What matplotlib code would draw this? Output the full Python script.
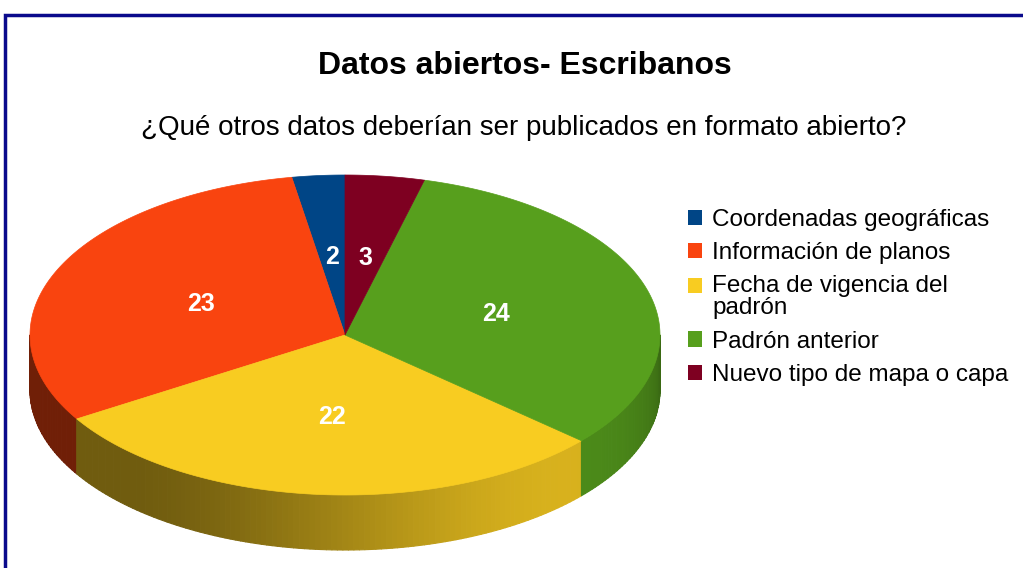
import numpy as np
import matplotlib
matplotlib.use('Agg')
import matplotlib.pyplot as plt
from matplotlib.patches import Polygon, Patch, Rectangle
from matplotlib.collections import PolyCollection
from matplotlib.legend_handler import HandlerPatch

plt.rcParams['font.family'] = ['Liberation Sans', 'DejaVu Sans']

# data
categories = ['Coordenadas geográficas', 'Información de planos',
              'Fecha de vigencia del\npadrón', 'Padrón anterior',
              'Nuevo tipo de mapa o capa']
values = [2, 23, 22, 24, 3]
colors = ['#004586', '#f9440f', '#f8cc21', '#579f1d', '#7e0021']
title = 'Datos abiertos- Escribanos'
subtitle = '¿Qué otros datos deberían ser publicados en formato abierto?'

# pie geometry (pixel space)
cx, cy = 345, 335
rx, ry = 315, 160
depth = 55
start = 90.0


def rim(theta_deg, dy=0.0):
    t = np.radians(theta_deg)
    return np.column_stack([cx + rx * np.cos(t), cy - ry * np.sin(t) + dy])


def shade(theta):
    # crude lighting for the side wall
    c = max(0.0, np.cos(np.radians(theta - 315)))
    return 0.45 + 0.42 * c ** 2


fig = plt.figure(figsize=(10.23, 5.68), dpi=100)
ax = fig.add_axes([0, 0, 1, 1])
ax.set_xlim(0, 1023)
ax.set_ylim(568, 0)
ax.axis('off')

total = float(sum(values))
angles = [start]
for v in values:
    angles.append(angles[-1] + v / total * 360.0)

# side walls (front half only)
side_polys, side_cols = [], []
for i, col in enumerate(colors):
    a0, a1 = angles[i], angles[i + 1]
    base = np.array(matplotlib.colors.to_rgb(col))
    for off in (0.0, 360.0):
        lo, hi = max(a0 - off, 180.0), min(a1 - off, 360.0)
        if hi <= lo:
            continue
        steps = np.arange(lo, hi, 1.0).tolist() + [hi]
        for s0, s1 in zip(steps[:-1], steps[1:]):
            th = np.linspace(s0, s1, 4)
            top = rim(th)
            bot = rim(th[::-1], depth)
            side_polys.append(np.vstack([top, bot]))
            side_cols.append(np.clip(base * shade((s0 + s1) / 2), 0, 1))
ax.add_collection(PolyCollection(side_polys, facecolors=side_cols,
                                 edgecolors=side_cols, linewidths=0.8,
                                 antialiased=True))

# top face
for i, col in enumerate(colors):
    th = np.linspace(angles[i], angles[i + 1], 200)
    pts = np.vstack([[cx, cy], rim(th)])
    ax.add_patch(Polygon(pts, closed=True, facecolor=col, edgecolor=col, lw=0.5))

# value labels
for i, v in enumerate(values):
    mid = np.radians((angles[i] + angles[i + 1]) / 2)
    x = cx + 0.5 * rx * np.cos(mid)
    y = cy - 0.5 * ry * np.sin(mid) + 2
    ax.text(x, y, str(v), color='white', fontsize=18, fontweight='bold',
            ha='center', va='center')

# titles
ax.text(525, 66, title, fontsize=23, fontweight='bold', ha='center', va='center')
ax.text(524, 128, subtitle, fontsize=20, ha='center', va='center')


# legend; the square of a two-line entry sits on its first line
def first_line_square(legend, orig_handle, xdescent, ydescent, width, height, fontsize):
    return Rectangle((-xdescent, -ydescent + fontsize * 0.5), width, height)


handles = [Patch(facecolor=c, edgecolor='none') for c in colors]
hmap = {h: HandlerPatch(patch_func=first_line_square)
        for h, lab in zip(handles, categories) if '\n' in lab}
leg = ax.legend(handles, categories, loc='upper left',
                bbox_to_anchor=(688, 209), bbox_transform=ax.transData,
                frameon=False, fontsize=17.5, handlelength=0.58, handleheight=0.58,
                handletextpad=0.42, labelspacing=0.46, borderpad=0, borderaxespad=0,
                handler_map=hmap)
for t in leg.get_texts():
    t.set_linespacing(1.0)

# frame
ax.plot([5, 5, 1030], [575, 15, 15], color='#0a0a8c', lw=2.5, solid_joinstyle='miter')

fig.savefig('out.png', dpi=100)
